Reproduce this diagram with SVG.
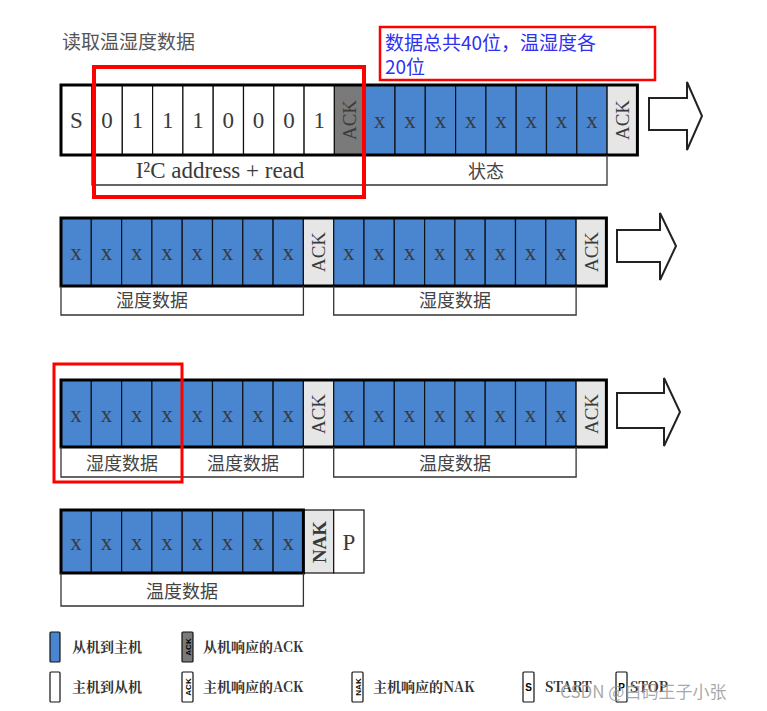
<svg xmlns="http://www.w3.org/2000/svg" width="767" height="711" viewBox="0 0 767 711">
<style>
.b{fill:#4a86d0;stroke:#111;stroke-width:1.2}
.w{fill:#fff;stroke:#111;stroke-width:1.2}
.d{fill:#7a7a7a;stroke:#111;stroke-width:1.2}
.l{fill:#e6e6e6;stroke:#111;stroke-width:1.2}
.o{fill:none;stroke:#000;stroke-width:3}
.t{font-family:"Liberation Serif",serif;font-size:23px;fill:#3a3a3a;text-anchor:middle}
.a{font-family:"Liberation Serif",serif;font-size:19px;fill:#3a3a3a;text-anchor:middle}
.lb{fill:none;stroke:#333;stroke-width:1.3}
.c{font-family:"Noto Sans CJK SC",sans-serif;font-size:18px;fill:#444;text-anchor:middle}
.lg{font-family:"Noto Serif CJK SC","Noto Sans CJK SC",serif;font-size:14px;font-weight:bold;fill:#333}
.arr{fill:#fff;stroke:#222;stroke-width:2}
.red{fill:none;stroke:#f00}
</style>
<rect width="767" height="711" fill="#fff"/>
<text x="62" y="49" font-family="Noto Sans CJK SC,sans-serif" font-size="19" fill="#555">读取温湿度数据</text>
<g id="row1">
<rect class="w" x="61" y="85" width="31" height="70"/><text class="t" x="76.5" y="128">S</text>
<rect class="w" x="92" y="85" width="30.3" height="70"/><text class="t" x="107" y="128">0</text>
<rect class="w" x="122.3" y="85" width="30.3" height="70"/><text class="t" x="137.5" y="128">1</text>
<rect class="w" x="152.6" y="85" width="30.3" height="70"/><text class="t" x="167.8" y="128">1</text>
<rect class="w" x="182.9" y="85" width="30.3" height="70"/><text class="t" x="198" y="128">1</text>
<rect class="w" x="213.2" y="85" width="30.3" height="70"/><text class="t" x="228.3" y="128">0</text>
<rect class="w" x="243.5" y="85" width="30.3" height="70"/><text class="t" x="258.6" y="128">0</text>
<rect class="w" x="273.8" y="85" width="30.3" height="70"/><text class="t" x="289" y="128">0</text>
<rect class="w" x="304.1" y="85" width="30.3" height="70"/><text class="t" x="319.2" y="128">1</text>
<rect class="d" x="334.4" y="85" width="30.3" height="70"/><text class="a" transform="translate(356,120) rotate(-90)">ACK</text>
<rect class="b" x="364.7" y="85" width="30.3" height="70"/><text class="t" x="379.8" y="128">x</text>
<rect class="b" x="395" y="85" width="30.3" height="70"/><text class="t" x="410.1" y="128">x</text>
<rect class="b" x="425.3" y="85" width="30.3" height="70"/><text class="t" x="440.4" y="128">x</text>
<rect class="b" x="455.6" y="85" width="30.3" height="70"/><text class="t" x="470.7" y="128">x</text>
<rect class="b" x="485.9" y="85" width="30.3" height="70"/><text class="t" x="501" y="128">x</text>
<rect class="b" x="516.2" y="85" width="30.3" height="70"/><text class="t" x="531.3" y="128">x</text>
<rect class="b" x="546.5" y="85" width="30.3" height="70"/><text class="t" x="561.6" y="128">x</text>
<rect class="b" x="576.8" y="85" width="30.3" height="70"/><text class="t" x="591.9" y="128">x</text>
<rect class="l" x="607.1" y="85" width="30.3" height="70"/><text class="a" transform="translate(629,120) rotate(-90)">ACK</text>
<rect class="o" x="61" y="85" width="576.4" height="70"/>
<polyline class="lb" points="92,155 92,185 364.7,185 364.7,155"/>
<polyline class="lb" points="364.7,185 607,185 607,155"/>
<text class="t" x="220" y="178" font-size="20">I²C address + read</text>
<text class="c" x="486" y="178">状态</text>
<polygon class="arr" points="649,98 687,98 687,82 702,116 687,150 687,130 649,130"/>
</g>
<g id="row2">
<rect class="b" x="61" y="218" width="30.3" height="68"/><text class="t" x="76.1" y="260">x</text>
<rect class="b" x="91.3" y="218" width="30.3" height="68"/><text class="t" x="106.4" y="260">x</text>
<rect class="b" x="121.6" y="218" width="30.3" height="68"/><text class="t" x="136.7" y="260">x</text>
<rect class="b" x="151.9" y="218" width="30.3" height="68"/><text class="t" x="167" y="260">x</text>
<rect class="b" x="182.2" y="218" width="30.3" height="68"/><text class="t" x="197.3" y="260">x</text>
<rect class="b" x="212.5" y="218" width="30.3" height="68"/><text class="t" x="227.6" y="260">x</text>
<rect class="b" x="242.8" y="218" width="30.3" height="68"/><text class="t" x="257.9" y="260">x</text>
<rect class="b" x="273.1" y="218" width="30.3" height="68"/><text class="t" x="288.2" y="260">x</text>
<rect class="l" x="303.4" y="218" width="30.3" height="68"/><text class="a" transform="translate(325,252) rotate(-90)">ACK</text>
<rect class="b" x="333.7" y="218" width="30.3" height="68"/><text class="t" x="348.8" y="260">x</text>
<rect class="b" x="364" y="218" width="30.3" height="68"/><text class="t" x="379.1" y="260">x</text>
<rect class="b" x="394.3" y="218" width="30.3" height="68"/><text class="t" x="409.4" y="260">x</text>
<rect class="b" x="424.6" y="218" width="30.3" height="68"/><text class="t" x="439.7" y="260">x</text>
<rect class="b" x="454.9" y="218" width="30.3" height="68"/><text class="t" x="470" y="260">x</text>
<rect class="b" x="485.2" y="218" width="30.3" height="68"/><text class="t" x="500.3" y="260">x</text>
<rect class="b" x="515.5" y="218" width="30.3" height="68"/><text class="t" x="530.6" y="260">x</text>
<rect class="b" x="545.8" y="218" width="30.3" height="68"/><text class="t" x="560.9" y="260">x</text>
<rect class="l" x="576.1" y="218" width="30.3" height="68"/><text class="a" transform="translate(598,252) rotate(-90)">ACK</text>
<rect class="o" x="61" y="218" width="545.4" height="68"/>
<polyline class="lb" points="61,286 61,315 303.4,315 303.4,286"/>
<polyline class="lb" points="333.7,286 333.7,315 576.1,315 576.1,286"/>
<text class="c" x="152" y="307">湿度数据</text>
<text class="c" x="455" y="307">湿度数据</text>
<polygon class="arr" points="617,230 660,230 660,213 676,246 660,280 660,262 617,262"/>
</g>
<g id="row3">
<rect class="b" x="61" y="380" width="30.3" height="67"/><text class="t" x="76.1" y="422">x</text>
<rect class="b" x="91.3" y="380" width="30.3" height="67"/><text class="t" x="106.4" y="422">x</text>
<rect class="b" x="121.6" y="380" width="30.3" height="67"/><text class="t" x="136.7" y="422">x</text>
<rect class="b" x="151.9" y="380" width="30.3" height="67"/><text class="t" x="167" y="422">x</text>
<rect class="b" x="182.2" y="380" width="30.3" height="67"/><text class="t" x="197.3" y="422">x</text>
<rect class="b" x="212.5" y="380" width="30.3" height="67"/><text class="t" x="227.6" y="422">x</text>
<rect class="b" x="242.8" y="380" width="30.3" height="67"/><text class="t" x="257.9" y="422">x</text>
<rect class="b" x="273.1" y="380" width="30.3" height="67"/><text class="t" x="288.2" y="422">x</text>
<rect class="l" x="303.4" y="380" width="30.3" height="67"/><text class="a" transform="translate(325,414) rotate(-90)">ACK</text>
<rect class="b" x="333.7" y="380" width="30.3" height="67"/><text class="t" x="348.8" y="422">x</text>
<rect class="b" x="364" y="380" width="30.3" height="67"/><text class="t" x="379.1" y="422">x</text>
<rect class="b" x="394.3" y="380" width="30.3" height="67"/><text class="t" x="409.4" y="422">x</text>
<rect class="b" x="424.6" y="380" width="30.3" height="67"/><text class="t" x="439.7" y="422">x</text>
<rect class="b" x="454.9" y="380" width="30.3" height="67"/><text class="t" x="470" y="422">x</text>
<rect class="b" x="485.2" y="380" width="30.3" height="67"/><text class="t" x="500.3" y="422">x</text>
<rect class="b" x="515.5" y="380" width="30.3" height="67"/><text class="t" x="530.6" y="422">x</text>
<rect class="b" x="545.8" y="380" width="30.3" height="67"/><text class="t" x="560.9" y="422">x</text>
<rect class="l" x="576.1" y="380" width="30.3" height="67"/><text class="a" transform="translate(598,414) rotate(-90)">ACK</text>
<rect class="o" x="61" y="380" width="545.4" height="67"/>
<polyline class="lb" points="61,447 61,477 303.4,477 303.4,447"/>
<line class="lb" x1="182.2" y1="447" x2="182.2" y2="477"/>
<polyline class="lb" points="333.7,447 333.7,477 576.1,477 576.1,447"/>
<text class="c" x="122" y="470">湿度数据</text>
<text class="c" x="243" y="470">温度数据</text>
<text class="c" x="455" y="470">温度数据</text>
<polygon class="arr" points="617,393 664,393 664,378 680,412 664,446 664,428 617,428"/>
</g>
<g id="row4">
<rect class="b" x="61" y="510" width="30.3" height="63"/><text class="t" x="76.1" y="550">x</text>
<rect class="b" x="91.3" y="510" width="30.3" height="63"/><text class="t" x="106.4" y="550">x</text>
<rect class="b" x="121.6" y="510" width="30.3" height="63"/><text class="t" x="136.7" y="550">x</text>
<rect class="b" x="151.9" y="510" width="30.3" height="63"/><text class="t" x="167" y="550">x</text>
<rect class="b" x="182.2" y="510" width="30.3" height="63"/><text class="t" x="197.3" y="550">x</text>
<rect class="b" x="212.5" y="510" width="30.3" height="63"/><text class="t" x="227.6" y="550">x</text>
<rect class="b" x="242.8" y="510" width="30.3" height="63"/><text class="t" x="257.9" y="550">x</text>
<rect class="b" x="273.1" y="510" width="30.3" height="63"/><text class="t" x="288.2" y="550">x</text>
<rect class="l" x="303.4" y="510" width="30.3" height="63"/><text class="a" transform="translate(326,542) rotate(-90)" font-weight="bold" fill="#222">NAK</text>
<rect class="w" x="333.7" y="510" width="30.3" height="63"/><text class="t" x="348.8" y="550">P</text>
<rect class="o" x="61" y="510" width="242.4" height="63"/>
<polyline class="lb" points="61,573 61,606 303.4,606 303.4,573"/>
<text class="c" x="182" y="598">温度数据</text>
</g>
<g id="highlights">
<rect class="red" x="94" y="67" width="270" height="130" stroke-width="4"/>
<rect class="red" x="380" y="27" width="275" height="53" stroke-width="2.5"/>
<text x="385" y="50" font-family="Noto Sans CJK SC,sans-serif" font-size="19" fill="#3030f0">数据总共40位，温湿度各</text>
<text x="385" y="74" font-family="Noto Sans CJK SC,sans-serif" font-size="19" fill="#3030f0">20位</text>
<rect class="red" x="54" y="364" width="128" height="118" stroke-width="3"/>
</g>
<g id="legend">
<rect class="b" x="50" y="632" width="10" height="30" rx="1"/>
<text class="lg" x="72" y="652">从机到主机</text>
<rect class="d" x="182" y="632" width="11" height="30" rx="1"/>
<text font-family="Liberation Sans,sans-serif" font-size="8" font-weight="bold" text-anchor="middle" transform="translate(191,647) rotate(-90)">ACK</text>
<text class="lg" x="203" y="652">从机响应的ACK</text>
<rect class="w" x="50" y="672" width="10" height="30" rx="1"/>
<text class="lg" x="72" y="692">主机到从机</text>
<rect class="w" x="182" y="672" width="11" height="30" rx="1"/>
<text font-family="Liberation Sans,sans-serif" font-size="8" font-weight="bold" text-anchor="middle" transform="translate(191,687) rotate(-90)">ACK</text>
<text class="lg" x="203" y="692">主机响应的ACK</text>
<rect class="w" x="352" y="672" width="11" height="30" rx="1"/>
<text font-family="Liberation Sans,sans-serif" font-size="8" font-weight="bold" text-anchor="middle" transform="translate(361,687) rotate(-90)">NAK</text>
<text class="lg" x="373" y="692">主机响应的NAK</text>
<rect class="w" x="523" y="672" width="11" height="30" rx="1"/>
<text font-family="Liberation Sans,sans-serif" font-size="10" font-weight="bold" x="528.5" y="691" text-anchor="middle">S</text>
<text class="lg" x="545" y="692">START</text>
<rect class="w" x="616" y="672" width="11" height="30" rx="1"/>
<text font-family="Liberation Sans,sans-serif" font-size="10" font-weight="bold" x="621.5" y="691" text-anchor="middle">P</text>
<text class="lg" x="630" y="692">STOP</text>
<text x="560" y="698" font-family="Noto Sans CJK SC,sans-serif" font-size="17" fill="#999" fill-opacity="0.85">CSDN @白码王子小张</text>
</g>
</svg>
